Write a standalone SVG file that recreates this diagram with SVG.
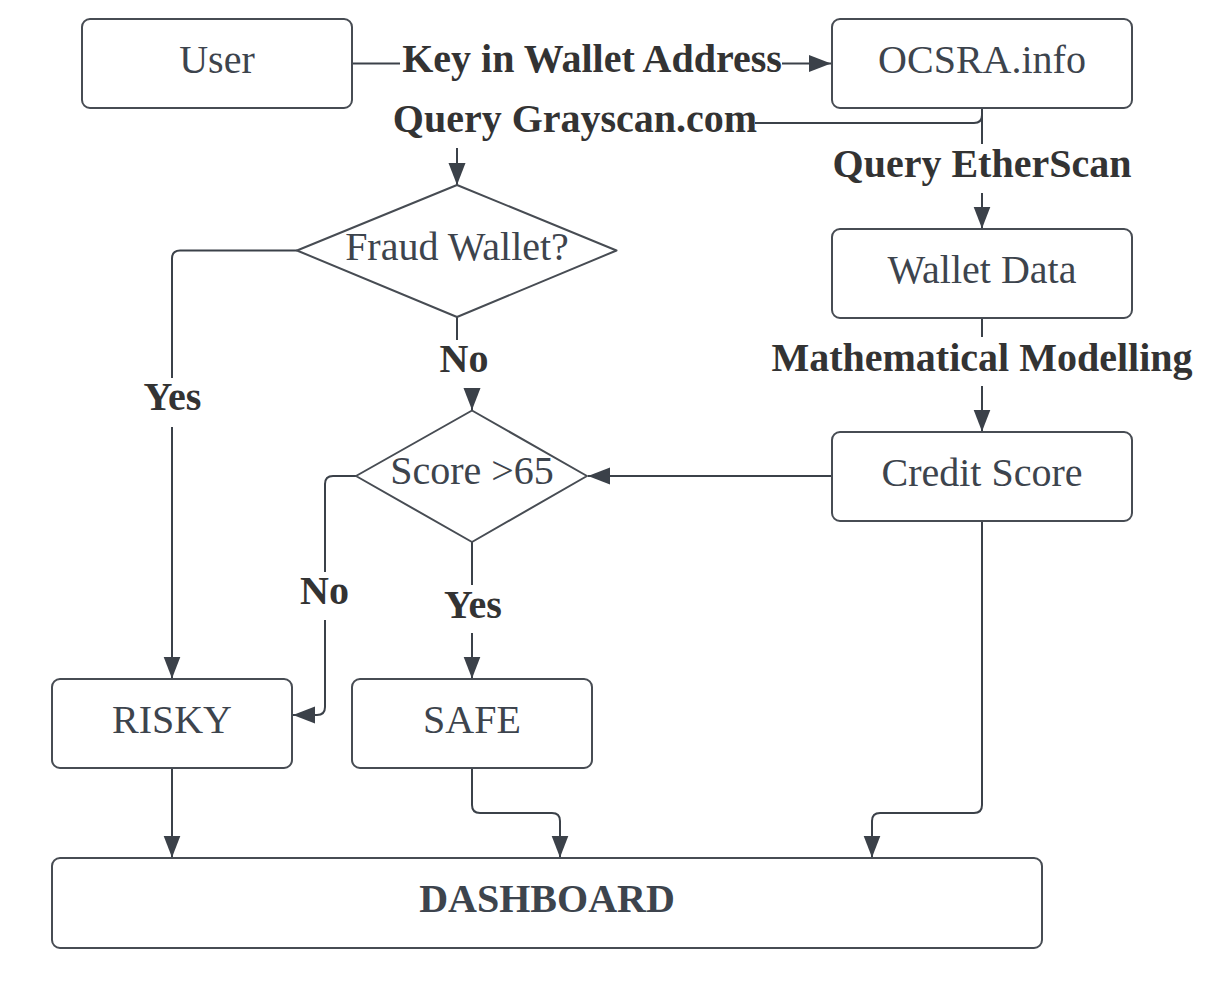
<svg xmlns="http://www.w3.org/2000/svg" width="1221" height="996" viewBox="0 0 1221 996">
<style>
.box{fill:#ffffff;stroke:#474c53;stroke-width:2;stroke-linejoin:round}
.nt{font-family:"Liberation Serif","Times New Roman",serif;font-size:40px;fill:#3d444d;text-anchor:middle}
.b{font-weight:bold}
.conn{fill:none;stroke:#3b4149;stroke-width:2;marker-end:url(#ah)}
.conn.plain{marker-end:none}
.lbg{fill:#ffffff}
.lt{font-family:"Liberation Serif","Times New Roman",serif;font-size:40px;font-weight:bold;fill:#333333;text-anchor:middle}
</style>
<defs>
<marker id="ah" markerWidth="24" markerHeight="18" refX="22" refY="8.5" orient="auto" markerUnits="userSpaceOnUse">
<path d="M0,0 L22,8.5 L0,17 Z" fill="#3b4149"/>
</marker>
</defs>
<rect width="1221" height="996" fill="#ffffff"/>

<g id="connectors">
<path class="conn" d="M352,63.5 H831"/>
<path class="conn" d="M982,108 V115 Q982,123 974,123 H465 Q457,123 457,131 V185"/>
<path class="conn" d="M982,108 V228.5"/>
<path class="conn" d="M982,318 V431.5"/>
<path class="conn" d="M832,476 H588"/>
<path class="conn" d="M297,250.5 H180 Q172,250.5 172,258.5 V678.5"/>
<path class="conn" d="M457,317 V363 H472 V410"/>
<path class="conn" d="M356,476 H333 Q325,476 325,484 V707 Q325,715 317,715 H293"/>
<path class="conn" d="M472,542 V678.5"/>
<path class="conn" d="M172,768.5 V857.5"/>
<path class="conn" d="M472,768.5 V805 Q472,813 480,813 H552 Q560,813 560,821 V857.5"/>
<path class="conn" d="M982,521 V805 Q982,813 974,813 H880 Q872,813 872,821 V857.5"/>

<g id="lbl-key">
<rect class="lbg" x="400" y="40" width="382" height="48"/>
<text class="lt" x="592" y="72">Key in Wallet Address</text>
</g>
<g id="lbl-grayscan">
<rect class="lbg" x="393" y="100" width="362" height="48"/>
<text class="lt" x="575" y="132">Query Grayscan.com</text>
</g>
<g id="lbl-etherscan">
<rect class="lbg" x="834" y="144" width="296" height="49"/>
<text class="lt" x="982" y="177">Query EtherScan</text>
</g>
<g id="lbl-math">
<rect class="lbg" x="771" y="337" width="422" height="49"/>
<text class="lt" x="982" y="370.5">Mathematical Modelling</text>
</g>
<g id="lbl-yes1">
<rect class="lbg" x="143" y="378" width="58" height="49"/>
<text class="lt" x="172.5" y="410">Yes</text>
</g>
<g id="lbl-no1">
<rect class="lbg" x="439" y="340" width="50" height="48"/>
<text class="lt" x="464" y="372">No</text>
</g>
<g id="lbl-no2">
<rect class="lbg" x="299" y="572" width="51" height="48"/>
<text class="lt" x="324.5" y="604">No</text>
</g>
<g id="lbl-yes2">
<rect class="lbg" x="444" y="585" width="58" height="48"/>
<text class="lt" x="473" y="618">Yes</text>
</g>
</g>

<g id="user">
<rect class="box" x="82" y="19" width="270" height="89" rx="8"/>
<text class="nt" x="217" y="72.5">User</text>
</g>
<g id="ocsra">
<rect class="box" x="832" y="19" width="300" height="89" rx="8"/>
<text class="nt" x="982" y="72.5">OCSRA.info</text>
</g>
<g id="wallet-data">
<rect class="box" x="832" y="229" width="300" height="89" rx="8"/>
<text class="nt" x="982" y="282.5">Wallet Data</text>
</g>
<g id="credit-score">
<rect class="box" x="832" y="432" width="300" height="89" rx="8"/>
<text class="nt" x="982" y="485.5">Credit Score</text>
</g>
<g id="fraud-wallet">
<path class="box" d="M457,185 L616.5,250.5 L457,317 L297,250.5 Z"/>
<text class="nt" x="457" y="259.5">Fraud Wallet?</text>
</g>
<g id="score">
<path class="box" d="M472,410.5 L587,476 L472,542 L356,476 Z"/>
<text class="nt" x="472" y="484">Score &gt;65</text>
</g>
<g id="risky">
<rect class="box" x="52" y="679" width="240" height="89" rx="8"/>
<text class="nt" x="172" y="733">RISKY</text>
</g>
<g id="safe">
<rect class="box" x="352" y="679" width="240" height="89" rx="8"/>
<text class="nt" x="472" y="733">SAFE</text>
</g>
<g id="dashboard">
<rect class="box" x="52" y="858" width="990" height="90" rx="8"/>
<text class="nt b" x="547" y="912">DASHBOARD</text>
</g>
</svg>
